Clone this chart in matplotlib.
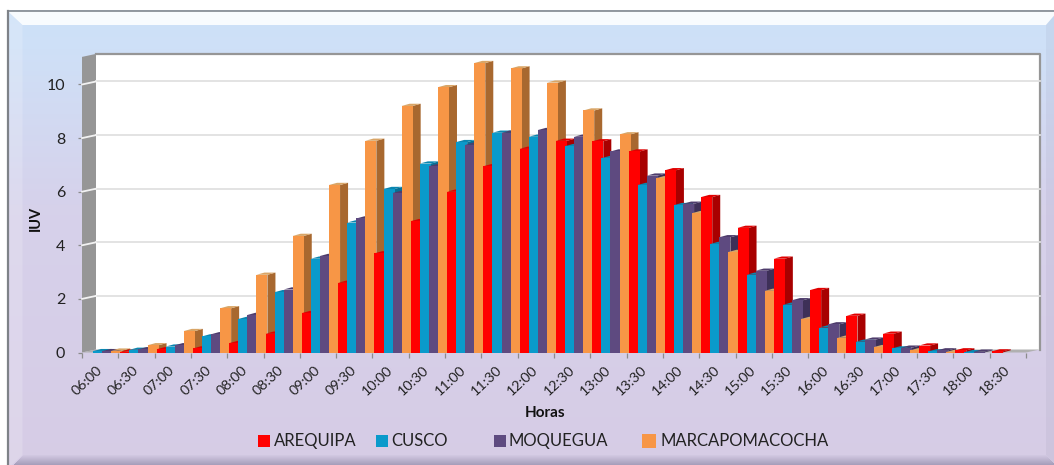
import numpy as np
import matplotlib
matplotlib.use("Agg")
import matplotlib.pyplot as plt
from matplotlib.patches import Polygon

plt.rcParams['font.family'] = ['Lato', 'DejaVu Sans']

horas = ["06:00","06:30","07:00","07:30","08:00","08:30","09:00","09:30","10:00","10:30",
         "11:00","11:30","12:00","12:30","13:00","13:30","14:00","14:30","15:00","15:30",
         "16:00","16:30","17:00","17:30","18:00","18:30"]
arequipa = [0.0,0.03,0.12,0.15,0.35,0.70,1.47,2.60,3.70,4.90,6.00,6.95,7.60,7.90,7.88,7.50,
            6.80,5.80,4.65,3.50,2.33,1.37,0.70,0.26,0.08,0.04]
cusco = [0.05,0.10,0.22,0.60,1.25,2.25,3.50,4.85,6.10,7.05,7.85,8.20,8.05,7.70,7.25,6.25,
         5.50,4.05,2.90,1.78,0.93,0.40,0.15,0.04,0.01,0.0]
moquegua = [0.05,0.12,0.27,0.68,1.40,2.35,3.60,5.00,5.95,6.95,7.75,8.20,8.30,8.05,7.50,6.60,
            5.55,4.30,3.05,1.95,1.05,0.48,0.18,0.08,0.03,0.0]
marcapomacocha = [0.07,0.27,0.80,1.65,2.90,4.35,6.25,7.90,9.20,9.90,10.80,10.60,10.07,9.03,
                  8.14,6.50,5.20,3.75,2.30,1.25,0.55,0.20,0.08,0.02,0.0,0.0]
series_names = ["AREQUIPA", "CUSCO", "MOQUEGUA", "MARCAPOMACOCHA"]
series_values = [arequipa, cusco, moquegua, marcapomacocha]
face_colors = ["#FF0000", "#0A9ACB", "#5E4A80", "#F79646"]
side_colors = ["#A80000", "#086F94", "#3E3058", "#A8682F"]
top_colors = ["#E00000", "#0A86B0", "#4E3C6C", "#D9A566"]

W, H = 1054, 465
fig = plt.figure(figsize=(W/100, H/100), dpi=100)
fig.patch.set_facecolor("white")

# panel background with bevel, in pixel coordinates
bg = fig.add_axes([0, 0, 1, 1], zorder=0)
bg.set_xlim(0, W); bg.set_ylim(H, 0); bg.axis("off")
L, T, R, B = 7.5, 11, 1058, 469
stops_y = np.array([T, 45, 210, B])
stops_c = np.array([[0.80, 0.88, 0.97], [0.81, 0.88, 0.97], [0.84, 0.82, 0.92], [0.84, 0.80, 0.90]])
yy = np.linspace(T, B, 256)
grad = np.stack([np.interp(yy, stops_y, stops_c[:, c]) for c in range(3)], axis=1)[:, None, :]
bg.imshow(grad, extent=(L, R, B, T), aspect="auto", zorder=0)
b = 15
bg.add_patch(Polygon([(L,T),(R,T),(R-12,T+14),(L+b,T+14)], fc="white", alpha=0.88, ec="none", zorder=1))
bg.add_patch(Polygon([(L,T),(L+b,T+14),(L+b,B-14),(L,B)], fc="white", alpha=0.18, ec="none", zorder=1))
bg.add_patch(Polygon([(R,T),(R-12,T+14),(R-12,B-14),(R,B)], fc="#7f7f9f", alpha=0.10, ec="none", zorder=1))
for j in range(10):
    y0 = B - 14 + j
    bg.add_patch(Polygon([(L+b-j*1.0,y0),(R-12+j,y0),(R-12+j,y0+1),(L+b-j*1.0,y0+1)],
                         fc="#6f6a8a", alpha=0.05+0.045*j, ec="none", zorder=1))
bg.plot([L,R],[T,T], color="#8a9097", lw=1.3, zorder=2)
bg.plot([L,L],[T,B], color="#7e8288", lw=1.6, zorder=2)
bg.set_xlim(0, W); bg.set_ylim(H, 0)

# chart axes: x = 0 at px 82, x = 26 at px 1026; y = 0 at px 352.5, y = 10 at px 84.5
px_x0, px_x1 = 82, 1026
px_y0, px_y10 = 352.5, 84.5
unit = (px_y0 - px_y10) / 10
ymax = 11.03
ax = fig.add_axes([px_x0/W, 1 - px_y0/H, (px_x1-px_x0)/W, ymax*unit/H], zorder=1)
ax.set_xlim(0, 26); ax.set_ylim(0, ymax)
ax.patch.set_alpha(0)
for s in ax.spines.values():
    s.set_visible(False)

px_per_cat = (px_x1-px_x0)/26
wall_dx = 14 / px_per_cat
wall_dy = 3.0 / unit
top = ymax + wall_dy
# back wall
ax.add_patch(Polygon([(wall_dx,wall_dy),(26+wall_dx,wall_dy),(26+wall_dx,top),(wall_dx,top)],
                     fc="white", ec="none", zorder=1, clip_on=False))
ax.plot([wall_dx,26+wall_dx,26+wall_dx],[top,top,wall_dy], color="#969696", lw=1.6, zorder=2, clip_on=False)
# side wall
ax.add_patch(Polygon([(0,0),(wall_dx,wall_dy),(wall_dx,top),(0,ymax)],
                     fc="#969696", ec="none", zorder=2, clip_on=False))
# floor
ax.add_patch(Polygon([(0,0),(26,0),(26+wall_dx,wall_dy),(wall_dx,wall_dy)],
                     fc="#B0B0B0", ec="none", zorder=2, clip_on=False))
# gridlines on wall and side wall
for v in [2,4,6,8,10]:
    ax.plot([wall_dx,26+wall_dx],[v+wall_dy,v+wall_dy], color="#E0E0E0", lw=1.3, zorder=2, clip_on=False)
    ax.plot([0,wall_dx],[v,v+wall_dy], color="#F2F2F2", lw=1.3, zorder=3, clip_on=False)

# bars, left to right so that each one overlaps its left neighbour
step_px = 9.07
width_px = 11.0
offset_px = 2.0
bw = width_px/px_per_cat
dx = 8.0/px_per_cat
dy = 2.2/unit
z = 10
for i in range(len(horas)):
    for k, vals in enumerate(series_values):
        v = vals[i]
        if v <= 0:
            continue
        x0 = i + (offset_px + k*step_px)/px_per_cat
        ax.add_patch(Polygon([(x0+bw,0),(x0+bw+dx,dy),(x0+bw+dx,v+dy),(x0+bw,v)],
                             fc=side_colors[k], ec="none", zorder=z, clip_on=False))
        ax.add_patch(Polygon([(x0,v),(x0+dx,v+dy),(x0+bw+dx,v+dy),(x0+bw,v)],
                             fc=top_colors[k], ec="none", zorder=z, clip_on=False))
        ax.bar(x0, v, width=bw, align="edge", color=face_colors[k], zorder=z+0.5, clip_on=False)
        z += 1

ax.set_yticks([0,2,4,6,8,10])
ax.set_yticklabels(["0","2","4","6","8","10"], fontsize=11.5, color="#222222")
ax.set_xticks(np.arange(0, 27))
ax.set_xticklabels([])
ax.tick_params(axis="x", length=3.5, width=0.9, color="#8C8C8C")
ax.tick_params(axis="y", length=3, width=0.9, color="#8C8C8C", pad=9)
for i, h in enumerate(horas):
    ax.annotate(h, (i, 0), xytext=(5*0.72, -28*0.72), textcoords="offset points", rotation=43,
                ha="center", va="center", fontsize=10.3, color="#222222", annotation_clip=False)
ax.text(-46/px_per_cat, 5.0, "IUV", rotation=90, ha="center", va="center", fontsize=10.5, fontweight="bold", color="#111111")
fig.text(545/W, 1-413/H, "Horas", ha="center", va="center", fontsize=11, fontweight="bold", color="#111111")

# legend
leg = fig.add_axes([0, 0, 1, 1], zorder=3)
leg.set_xlim(0, W); leg.set_ylim(H, 0); leg.axis("off")
leg.patch.set_alpha(0)
leg_sq = [258, 376, 494, 642]
leg_sz = [12, 12, 12, 14]
leg_tx = [274, 391, 509, 660]
for k, name in enumerate(series_names):
    s = leg_sz[k]
    leg.add_patch(Polygon([(leg_sq[k],441-s/2),(leg_sq[k]+s,441-s/2),(leg_sq[k]+s,441+s/2),(leg_sq[k],441+s/2)],
                          fc=face_colors[k], ec="none"))
    leg.text(leg_tx[k], 441, name, ha="left", va="center", fontsize=12, color="#222222")

fig.savefig("out.png", dpi=100)
